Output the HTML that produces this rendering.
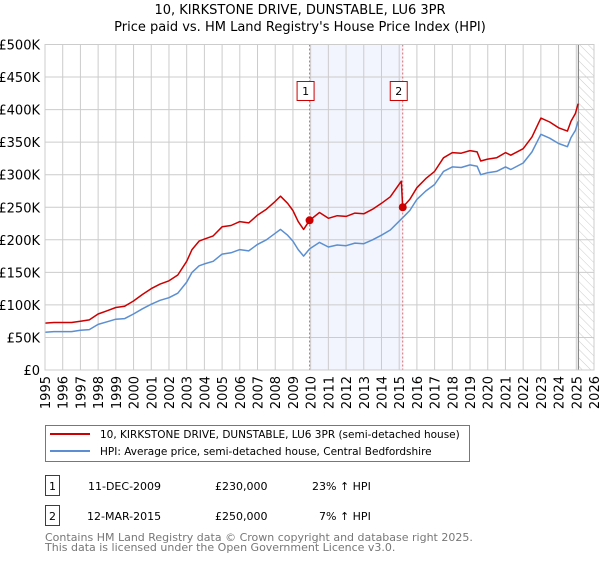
<!DOCTYPE html>
<html><head><meta charset="utf-8"><style>
body{margin:0;background:#fff;width:600px;height:560px;overflow:hidden;font-family:"DejaVu Sans","Liberation Sans",sans-serif}
</style></head><body>
<svg width="600" height="560" xmlns="http://www.w3.org/2000/svg" font-family="DejaVu Sans, Liberation Sans, sans-serif">
<defs><pattern id="hatch" width="6" height="6" patternUnits="userSpaceOnUse" patternTransform="rotate(-45)"><line x1="0" y1="0" x2="0" y2="6" stroke="#ccc" stroke-width="1"/></pattern></defs>
<text x="300" y="14" text-anchor="middle" font-size="13" fill="#000">10, KIRKSTONE DRIVE, DUNSTABLE, LU6 3PR</text>
<text x="300" y="31" text-anchor="middle" font-size="13" fill="#000">Price paid vs. HM Land Registry's House Price Index (HPI)</text>
<g id="plot"></g>
<g>
<rect x="45.5" y="425.5" width="424" height="36" fill="#fff" stroke="#777"/>
<line x1="50" y1="434" x2="90" y2="434" stroke="#cc0000" stroke-width="2"/>
<text x="100" y="438" font-size="10.5">10, KIRKSTONE DRIVE, DUNSTABLE, LU6 3PR (semi-detached house)</text>
<line x1="50" y1="451" x2="90" y2="451" stroke="#5b8fd1" stroke-width="2"/>
<text x="100" y="455" font-size="10.5">HPI: Average price, semi-detached house, Central Bedfordshire</text>
</g>
<g font-size="11">
<rect x="45.5" y="475.5" width="14" height="20" fill="#fff" stroke="#cc0000"/>
<text x="52.5" y="490" text-anchor="middle">1</text>
<text x="88" y="490">11-DEC-2009</text>
<text x="215" y="490">£230,000</text>
<text x="312" y="490">23% ↑ HPI</text>
<rect x="45.5" y="505.5" width="14" height="20" fill="#fff" stroke="#cc0000"/>
<text x="52.5" y="520" text-anchor="middle">2</text>
<text x="87" y="520">12-MAR-2015</text>
<text x="215" y="520">£250,000</text>
<text x="319" y="520">7% ↑ HPI</text>
</g>
<g font-size="11" fill="#777">
<text x="45" y="541" fill="#777">Contains HM Land Registry data © Crown copyright and database right 2025.</text>
<text x="45" y="551" fill="#777">This data is licensed under the Open Government Licence v3.0.</text>
</g>
</svg>
<script>
const hpiYears=[1995,1995.5,1996,1996.5,1997,1997.5,1998,1998.5,1999,1999.5,2000,2000.5,2001,2001.5,2002,2002.5,2003,2003.3,2003.7,2004,2004.5,2005,2005.5,2006,2006.5,2007,2007.5,2008,2008.3,2008.7,2009,2009.3,2009.6,2009.94,2010.5,2011,2011.5,2012,2012.5,2013,2013.5,2014,2014.5,2015.2,2015.6,2016,2016.5,2017,2017.5,2018,2018.5,2019,2019.4,2019.6,2020,2020.5,2021,2021.3,2022,2022.5,2023,2023.5,2024,2024.5,2024.7,2024.95,2025.1];
const hpiValues=[58,59,59,59,61,62,70,74,78,79,86,94,101,107,111,118,135,150,160,163,167,178,180,185,183,193,200,210,216,207,198,185,175,186,196,189,192,191,195,194,200,207,215,234,245,262,275,285,305,312,311,315,313,300,303,305,312,308,318,335,362,356,348,343,357,368,382];
const priceYears=[1995,1995.5,1996,1996.5,1997,1997.5,1998,1998.5,1999,1999.5,2000,2000.5,2001,2001.5,2002,2002.5,2003,2003.3,2003.7,2004,2004.5,2005,2005.5,2006,2006.5,2007,2007.5,2008,2008.3,2008.7,2009,2009.3,2009.6,2009.94,2010.5,2011,2011.5,2012,2012.5,2013,2013.5,2014,2014.5,2015.12,2015.2,2015.6,2016,2016.5,2017,2017.5,2018,2018.5,2019,2019.4,2019.6,2020,2020.5,2021,2021.3,2022,2022.5,2023,2023.5,2024,2024.5,2024.7,2024.95,2025.1];
const priceValues=[72,73,73,73,75,77,86,91,96,98,106,116,125,132,137,146,167,185,198,201,206,220,222,228,226,238,247,259,267,256,245,228,216,230,242,233,237,236,241,240,247,256,266,290,250,262,280,294,305,326,334,333,337,335,321,324,326,334,330,340,358,387,381,372,367,382,394,409];
const saleYears=[2009.94,2015.2];
const saleValues=[230,250];
const saleLabels=["1","2"];
const yTicks=[0,50,100,150,200,250,300,350,400,450,500];
const yTickLabels=["£0","£50K","£100K","£150K","£200K","£250K","£300K","£350K","£400K","£450K","£500K"];
const xTicks=[1995,1996,1997,1998,1999,2000,2001,2002,2003,2004,2005,2006,2007,2008,2009,2010,2011,2012,2013,2014,2015,2016,2017,2018,2019,2020,2021,2022,2023,2024,2025,2026];
const NS="http://www.w3.org/2000/svg";
const X0=45,X1=594,Y0=370,Y1=44.5;
const xs=y=>X0+(y-1995)/(2026-1995)*(X1-X0);
const ys=v=>Y0-v/500*(Y0-Y1);
const g=document.getElementById('plot');
function mk(t,a){const e=document.createElementNS(NS,t);for(const k in a)e.setAttribute(k,a[k]);g.appendChild(e);return e;}
let e;
e=mk('rect',{x:xs(saleYears[0]),y:Y1,width:xs(saleYears[1])-xs(saleYears[0]),height:Y0-Y1,fill:'#f2f5fd'});


const dataEnd=2025.12;
e=mk('rect',{x:xs(dataEnd),y:Y1,width:X1-xs(dataEnd),height:Y0-Y1,fill:'url(#hatch)'});


yTicks.forEach((v,i)=>{
 e=mk('line',{x1:X0,x2:X1,y1:ys(v),y2:ys(v),stroke:'#ccc','stroke-width':1});
 
 
 e=mk('text',{x:40,y:ys(v)+5,'text-anchor':'end','font-size':13,fill:'#000'});
 e.textContent=yTickLabels[i];
 
 
});
xTicks.forEach(y=>{
 e=mk('line',{x1:xs(y),x2:xs(y),y1:Y1,y2:Y0,stroke:'#ccc','stroke-width':1});
 
 
 e=mk('text',{x:0,y:0,'text-anchor':'end','font-size':13,fill:'#000',transform:`translate(${xs(y)+5},376) rotate(-90)`});
 e.textContent=y;
 
 
});
e=mk('line',{x1:xs(dataEnd),x2:xs(dataEnd),y1:Y1,y2:Y0,stroke:'#888','stroke-width':1.2});


saleYears.forEach((y,i)=>{
 e=mk('line',{x1:xs(y),x2:xs(y),y1:Y1,y2:Y0,stroke:'#e06666','stroke-width':1,'stroke-dasharray':'2,2'});
 
 
});
function line(xa,va,col,name){
 const d=xa.map((x,i)=>(i?'L':'M')+xs(x).toFixed(1)+','+ys(va[i]).toFixed(1)).join('');
 e=mk('path',{d:d,fill:'none',stroke:col,'stroke-width':1.5,'stroke-linejoin':'round'});
 
 
}
line(hpiYears,hpiValues,'#5b8fd1','hpi-line');
line(priceYears,priceValues,'#cc0000','price-paid-line');
saleYears.forEach((y,i)=>{
 e=mk('circle',{cx:xs(y),cy:ys(saleValues[i]),r:4,fill:'#cc0000'});
 
 
 e=mk('rect',{x:xs(y)-12.5,y:81.5,width:17,height:19,fill:'#fff',stroke:'#cc0000'});
 
 
 e=mk('text',{x:xs(y)-4,y:95,'text-anchor':'middle','font-size':11,fill:'#000'});
 e.textContent=saleLabels[i];
 
 
});
e=mk('rect',{x:X0,y:Y1,width:X1-X0,height:Y0-Y1,fill:'none',stroke:'#ccc'});


</script>
</body></html>
